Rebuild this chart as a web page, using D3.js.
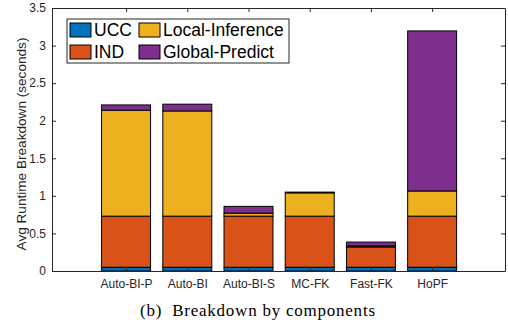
<!DOCTYPE html>
<html>
<head>
<meta charset="utf-8">
<script src="https://cdn.jsdelivr.net/npm/d3@7"></script>
<style>
  body { margin: 0; background: #fff; }
  svg { display: block; }
</style>
</head>
<body>
<div id="chart"></div>
<script>
// Data
const categories = ["Auto-BI-P", "Auto-BI", "Auto-BI-S", "MC-FK", "Fast-FK", "HoPF"];
const components = ["UCC", "IND", "Local-Inference", "Global-Predict"];
const ucc = [0.05, 0.05, 0.05, 0.05, 0.05, 0.05];
const ind = [0.68, 0.68, 0.68, 0.68, 0.27, 0.68];
const localInference = [1.41, 1.40, 0.04, 0.31, 0.015, 0.335];
const globalPredict = [0.07, 0.09, 0.09, 0.01, 0.05, 2.13];
const yTicks = [0, 0.5, 1, 1.5, 2, 2.5, 3, 3.5];

const colors = ["#0072BD", "#D95319", "#EDB120", "#7E2F8E"];

const width = 508, height = 327;
const margin = { left: 52, right: 3, top: 8, bottom: 56 };

const svg = d3.select("#chart").append("svg")
    .attr("width", width)
    .attr("height", height);

const x = d3.scaleLinear()
    .domain([-0.21, 7.19])
    .range([margin.left, width - margin.right]);

const y = d3.scaleLinear()
    .domain([0, 3.5])
    .range([height - margin.bottom, margin.top]);

const rows = categories.map((c, i) => ({
    name: c, idx: i + 1,
    UCC: ucc[i], IND: ind[i],
    "Local-Inference": localInference[i], "Global-Predict": globalPredict[i]
}));

const stack = d3.stack().keys(components)(rows);
const barW = (x(1) - x(0)) * 0.8;

// bars
svg.append("g")
    .selectAll("g")
    .data(stack)
    .join("g")
    .attr("fill", (d, i) => colors[i])
    .selectAll("rect")
    .data(d => d)
    .join("rect")
    .attr("x", d => x(d.data.idx) - barW / 2)
    .attr("width", barW)
    .attr("y", d => y(d[1]))
    .attr("height", d => y(d[0]) - y(d[1]))
    .attr("stroke", "#000")
    .attr("stroke-width", 1);

// axes (MATLAB box style, inward ticks)
const axisColor = "#262626";
const font = "'Liberation Sans', Arial, sans-serif";

const xIdx = categories.map((c, i) => i + 1);

svg.append("g")
    .attr("transform", `translate(0,${y(0)})`)
    .call(d3.axisBottom(x).tickValues(xIdx).tickSizeInner(-4).tickSizeOuter(0)
        .tickFormat((d, i) => categories[i]))
    .call(g => g.selectAll("text").attr("dy", "0.71em").attr("y", 8));

svg.append("g")
    .attr("transform", `translate(0,${margin.top})`)
    .call(d3.axisTop(x).tickValues(xIdx).tickSizeInner(-4).tickSizeOuter(0).tickFormat(""));

svg.append("g")
    .attr("transform", `translate(${margin.left},0)`)
    .call(d3.axisLeft(y).tickValues(yTicks).tickSizeInner(-4).tickSizeOuter(0)
        .tickFormat(d3.format("~g")))
    .call(g => g.selectAll("text").attr("x", -6));

svg.append("g")
    .attr("transform", `translate(${width - margin.right},0)`)
    .call(d3.axisRight(y).tickValues(yTicks).tickSizeInner(-4).tickSizeOuter(0).tickFormat(""));

svg.selectAll(".domain, .tick line").attr("stroke", axisColor);
svg.selectAll(".tick text")
    .attr("fill", axisColor)
    .style("font-family", font)
    .style("font-size", "12px");

// y label
svg.append("text")
    .attr("transform", "translate(26,144) rotate(-90)")
    .attr("text-anchor", "middle")
    .style("font-family", font)
    .style("font-size", "13.6px")
    .attr("fill", axisColor)
    .text("Avg Runtime Breakdown (seconds)");

// legend
const legend = svg.append("g");
legend.append("rect")
    .attr("x", 67).attr("y", 19)
    .attr("width", 222).attr("height", 44)
    .attr("fill", "#fff")
    .attr("stroke", axisColor)
    .attr("stroke-width", 1);

const legendPos = [
    { x: 70, y: 23 }, { x: 70, y: 45 },
    { x: 139, y: 23 }, { x: 139, y: 45 }
];
components.forEach((c, i) => {
    const p = legendPos[i];
    legend.append("rect")
        .attr("x", p.x).attr("y", p.y)
        .attr("width", 21).attr("height", 14)
        .attr("fill", colors[i])
        .attr("stroke", "#000");
    legend.append("text")
        .attr("x", p.x + 24).attr("y", p.y + 7)
        .attr("dy", "0.35em")
        .style("font-family", font)
        .style("font-size", "17.5px")
        .attr("fill", "#000")
        .text(c);
});

// caption
svg.append("text")
    .attr("x", 140).attr("y", 316)
    .style("font-family", "'Liberation Serif', 'DejaVu Serif', serif")
    .style("font-size", "17px")
    .style("white-space", "pre")
    .attr("textLength", 235)
    .attr("lengthAdjust", "spacing")
    .attr("fill", "#000")
    .text("(b)  Breakdown by components");
</script>
</body>
</html>
